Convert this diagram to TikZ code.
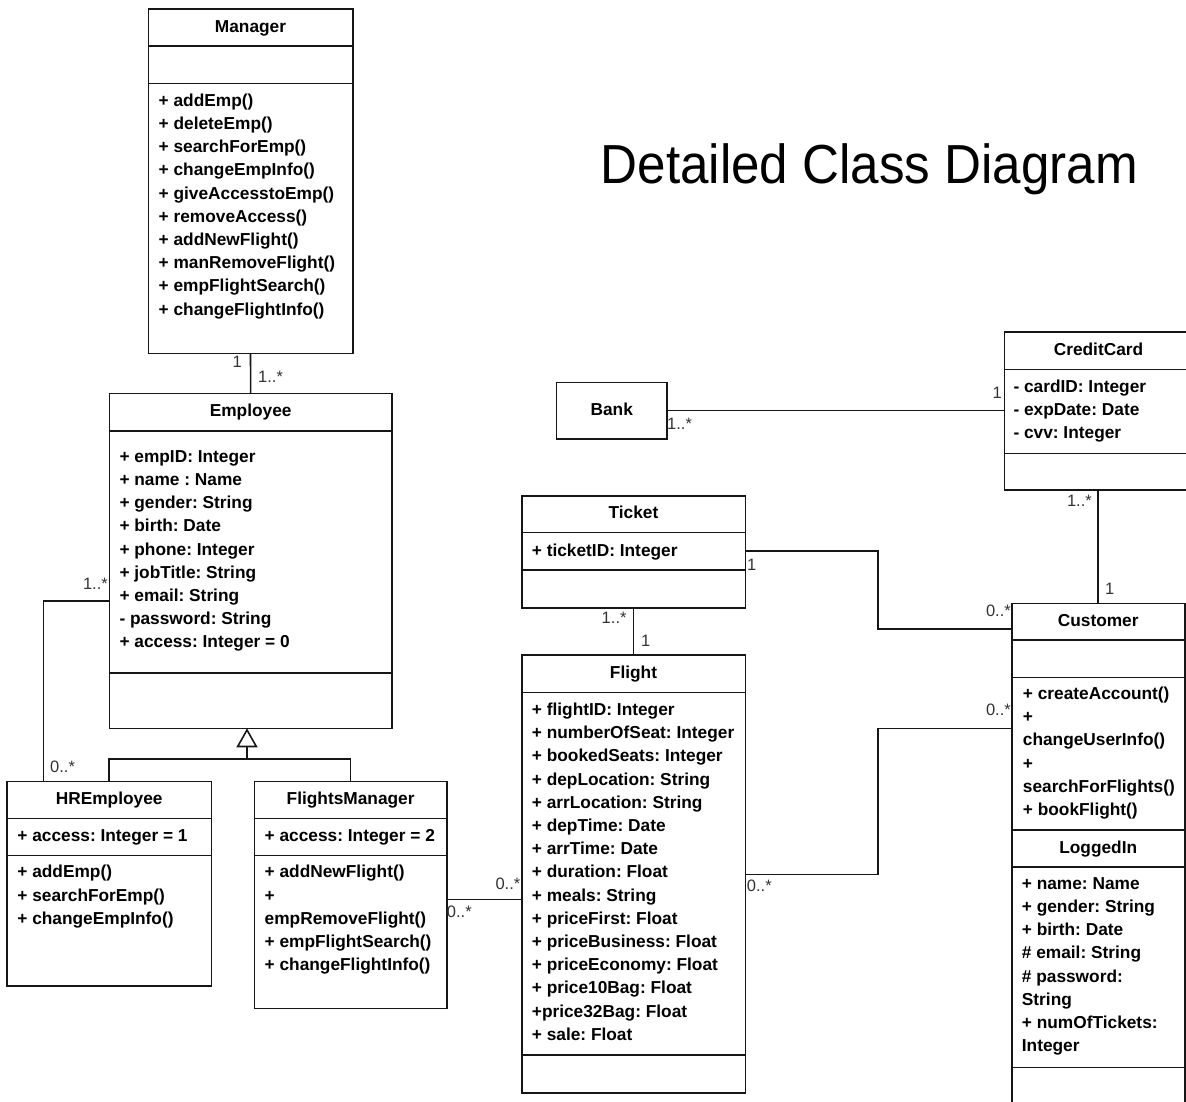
\documentclass[tikz,border=0pt]{standalone}
\usepackage{fontspec}
\setmainfont{Liberation Sans}
\usepackage{graphicx}
\usetikzlibrary{arrows.meta}
\definecolor{linec}{HTML}{161616}
\definecolor{multc}{HTML}{333333}
\frenchspacing

% one compartment of a class box: name, x1, y1, x2, y2, text
\newcommand{\umlbox}[6]{%
  \node[box,hdr,anchor=north west,minimum width={(#4-#2)*1pt},minimum height={(#5-#3)*1pt}] (#1) at (#2,#3) {#6};}
% member lines of a compartment: prefix, x, first line y, list
\newcommand{\umllines}[4]{%
  \foreach \txt [count=\i] in {#4} {
    \node[attr,anchor=west] (#1-\i) at (#2,{#3+23.2*(\i-1)}) {\txt};
  }}

\begin{document}
\begin{tikzpicture}[x=1pt,y=-1pt,
  box/.style={draw=linec,line width=1.6pt,inner sep=0pt,outer sep=0pt,rectangle},
  hdr/.style={font=\fontsize{17.3}{23.2}\selectfont\bfseries,text height=12.4pt,text depth=3pt},
  attr/.style={font=\fontsize{17.3}{23.2}\selectfont\bfseries,inner sep=0pt,text height=16pt,text depth=3.6pt},
  mult/.style={font=\fontsize{16.5}{20}\selectfont,text=multc,inner sep=0pt,text height=11.8pt,text depth=0pt},
  conn/.style={draw=linec,line width=1.6pt},
]
\useasboundingbox (0,0) rectangle (1186,1101);
\fill[white] (0,0) rectangle (1186,1101);
\clip (0,0) rectangle (1186,1101);

% title
\node[anchor=base,inner sep=0pt,font=\fontsize{55}{60}\selectfont] (title) at (869.4,183)
  {\scalebox{0.93}[1]{Detailed Class Diagram}};

% Manager
\umlbox{mgr-h}{148.3}{8.7}{352.7}{46}{Manager}
\umlbox{mgr-a}{148.3}{46}{352.7}{83.3}{}
\umlbox{mgr-m}{148.3}{83.3}{352.7}{353.3}{}
\umllines{mgr-t}{158.5}{100}{+ addEmp(),+ deleteEmp(),+ searchForEmp(),+ changeEmpInfo(),+ giveAccesstoEmp(),+ removeAccess(),+ addNewFlight(),+ manRemoveFlight(),+ empFlightSearch(),+ changeFlightInfo()}

% Employee
\umlbox{emp-h}{109.3}{393.3}{392}{430.7}{Employee}
\umlbox{emp-a}{109.3}{430.7}{392}{672.7}{}
\umlbox{emp-m}{109.3}{672.7}{392}{728.3}{}
\umllines{emp-t}{119.3}{456}{+ empID: Integer,+ name : Name,+ gender: String,+ birth: Date,+ phone: Integer,+ jobTitle: String,+ email: String,- password: String,+ access: Integer = 0}

% HREmployee
\umlbox{hre-h}{6.9}{781.5}{211.4}{818.5}{HREmployee}
\umlbox{hre-a}{6.9}{818.5}{211.4}{855.5}{}
\umlbox{hre-m}{6.9}{855.5}{211.4}{986}{}
\umllines{hre-at}{17.2}{835}{+ access: Integer = 1}
\umllines{hre-mt}{17.2}{871.7}{+ addEmp(),+ searchForEmp(),+ changeEmpInfo()}

% FlightsManager
\umlbox{fm-h}{254.3}{781.5}{447}{818.5}{FlightsManager}
\umlbox{fm-a}{254.3}{818.5}{447}{855.5}{}
\umlbox{fm-m}{254.3}{855.5}{447}{1008.3}{}
\umllines{fm-at}{264.5}{835}{+ access: Integer = 2}
\umllines{fm-mt}{264.5}{871.7}{+ addNewFlight(),+,empRemoveFlight(),+ empFlightSearch(),+ changeFlightInfo()}

% Ticket
\umlbox{tkt-h}{521.7}{495.7}{745.3}{532.3}{Ticket}
\umlbox{tkt-a}{521.7}{532.3}{745.3}{570}{}
\umlbox{tkt-o}{521.7}{570}{745.3}{607.7}{}
\umllines{tkt-t}{531.7}{550}{+ ticketID: Integer}

% Flight
\umlbox{flt-h}{521.7}{655}{745.3}{692.3}{Flight}
\umlbox{flt-a}{521.7}{692.3}{745.3}{1055}{}
\umlbox{flt-m}{521.7}{1055}{745.3}{1092.7}{}
\umllines{flt-t}{531.7}{709.3}{+ flightID: Integer,+ numberOfSeat: Integer,+ bookedSeats: Integer,+ depLocation: String,+ arrLocation: String,+ depTime: Date,+ arrTime: Date,+ duration: Float,+ meals: String,+ priceFirst: Float,+ priceBusiness: Float,+ priceEconomy: Float,+ price10Bag: Float,+price32Bag: Float,+ sale: Float}

% Bank
\umlbox{bank}{556.5}{382.3}{667}{439}{Bank}

% CreditCard
\umlbox{cc-h}{1004.3}{332}{1192.7}{369.3}{CreditCard}
\umlbox{cc-a}{1004.3}{369.3}{1192.7}{453.3}{}
\umlbox{cc-m}{1004.3}{453.3}{1192.7}{490}{}
\umllines{cc-t}{1013.3}{386}{- cardID: Integer,- expDate: Date,- cvv: Integer}

% Customer with its LoggedIn part
\umlbox{cust-h}{1011.7}{603.3}{1184.7}{640}{Customer}
\umlbox{cust-a}{1011.7}{640}{1184.7}{677.3}{}
\umlbox{cust-m}{1011.7}{677.3}{1184.7}{830}{}
\umlbox{log-h}{1011.7}{830}{1184.7}{866.7}{LoggedIn}
\umlbox{log-a}{1011.7}{866.7}{1184.7}{1067.3}{}
\umlbox{log-m}{1011.7}{1067.3}{1184.7}{1115}{}
\umllines{cust-t}{1022.7}{693.3}{+ createAccount(),+,changeUserInfo(),+,searchForFlights(),+ bookFlight()}
\umllines{log-t}{1021.7}{883}{+ name: Name,+ gender: String,+ birth: Date,\# email: String,\# password:,String,+ numOfTickets:,Integer}

% bend points of the connectors
\coordinate (hrj) at (43.5,601);
\coordinate (gen) at (247,759);
\coordinate (jt) at (878,628.7);
\coordinate (jf) at (878,728.3);

% connectors
\draw[conn] (mgr-m.south) -- (emp-h.north);
\draw[conn] (emp-a.west |- hrj) -- (hrj) -- (hrj |- hre-h.north);
\draw[conn] (hre-h.north) |- (gen) -| (fm-h.north);
\draw[conn,-{Triangle[open,length=19pt,width=21pt]}] (gen) -- (gen |- emp-m.south);
\draw[conn] (fm-m.east |- 0,899.5) -- (flt-a.west |- 0,899.5);
\draw[conn] (tkt-o.south) -- (flt-h.north);
\draw[conn] (tkt-a.east) -| (jt) -- (cust-h.west |- jt);
\draw[conn] (flt-a.east |- 0,874.3) -| (jf) -- (cust-m.west |- jf);
\draw[conn] (bank.east) -- (bank.east -| cc-a.west);
\draw[conn] (cc-m.south -| cust-h.north) -- (cust-h.north);

% multiplicities
\node[mult,anchor=east] (m1) at (242,362) {1};
\node[mult,anchor=west] (m2) at (258,377) {1..*};
\node[mult,anchor=east] (m3) at (108,584) {1..*};
\node[mult,anchor=west] (m4) at (50,766.7) {0..*};
\node[mult,anchor=east] (m5) at (520.5,883.3) {0..*};
\node[mult,anchor=west] (m6) at (446.7,911.7) {0..*};
\node[mult,anchor=west] (m7) at (746.7,886) {0..*};
\node[mult,anchor=east] (m8) at (1011,710) {0..*};
\node[mult,anchor=west] (m9) at (747,565) {1};
\node[mult,anchor=east] (m10) at (1011,610.7) {0..*};
\node[mult,anchor=east] (m11) at (626.7,617.3) {1..*};
\node[mult,anchor=west] (m12) at (641,640.7) {1};
\node[mult,anchor=east] (m13) at (1092,501) {1..*};
\node[mult,anchor=west] (m14) at (1105,588.3) {1};
\node[mult,anchor=west] (m15) at (667,424) {1..*};
\node[mult,anchor=east] (m16) at (1002,393) {1};
\end{tikzpicture}
\end{document}
